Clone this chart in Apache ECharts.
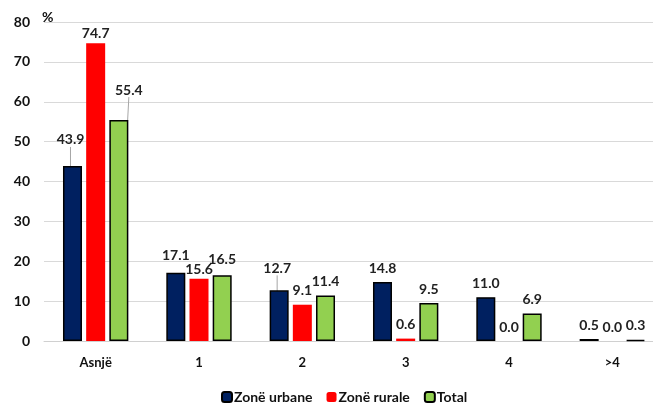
<!DOCTYPE html>
<html>
<head>
<meta charset="utf-8">
<script src="https://cdn.jsdelivr.net/npm/echarts@6/dist/echarts.min.js"></script>
<style>
  html, body { margin: 0; padding: 0; background: #fff; }
  #chart { width: 653px; height: 405px; }
</style>
</head>
<body>
<div id="chart"></div>
<script>
// data
var categories = ['Asnjë', '1', '2', '3', '4', '>4'];
var urbane = [43.9, 17.1, 12.7, 14.8, 11.0, 0.5];
var rurale = [74.7, 15.6, 9.1, 0.6, 0.0, 0.0];
var total = [55.4, 16.5, 11.4, 9.5, 6.9, 0.3];
var yTicks = [0, 10, 20, 30, 40, 50, 60, 70, 80];

var font = 'Lato, "Open Sans", sans-serif';

// labels that were dragged by hand in the original (seriesIndex-dataIndex -> shift)
var labelShift = {
    '0-0': [-2, -12],
    '0-1': [0, -3],
    '0-2': [-2, -8],
    '1-0': [0, 4],
    '1-1': [0, 5],
    '2-0': [10, -16],
    '2-1': [0, -2]
};
// labels that keep a leader line
var withLine = ['0-0', '0-2', '2-0'];

function labelCfg() {
    return {
        show: true,
        position: 'top',
        distance: 7,
        fontFamily: font,
        fontWeight: 'bold',
        fontSize: 14,
        color: '#222',
        formatter: function (p) { return p.value.toFixed(1); }
    };
}

function layout(p) {
    var s = labelShift[p.seriesIndex + '-' + p.dataIndex];
    return s ? { dx: s[0], dy: s[1] } : {};
}

function items(values, si) {
    return values.map(function (v, i) {
        var on = withLine.indexOf(si + '-' + i) >= 0;
        return { value: v, labelLine: { show: on, lineStyle: { color: '#a6a6a6', width: 1 } } };
    });
}

var chart = echarts.init(document.getElementById('chart'));
chart.setOption({
    animation: false,
    grid: { left: 44, right: -11, top: 22, bottom: 64, outerBoundsMode: 'none' },
    legend: {
        top: 385,
        left: 216,
        itemWidth: 10,
        itemHeight: 10,
        itemGap: 14,
        textStyle: { fontFamily: font, fontWeight: 'bold', fontSize: 14, color: '#111', padding: [0, 0, 0, -3] },
        data: ['Zonë urbane', 'Zonë rurale', 'Total']
    },
    xAxis: {
        type: 'category',
        data: categories,
        axisTick: { show: false },
        axisLine: { lineStyle: { color: '#d0d0d0', width: 1 } },
        axisLabel: { margin: 15, fontFamily: font, fontWeight: 'bold', fontSize: 13, color: '#111' }
    },
    yAxis: {
        type: 'value',
        min: yTicks[0],
        max: yTicks[yTicks.length - 1],
        interval: 10,
        name: '%',
        nameLocation: 'end',
        nameGap: -2,
        nameTextStyle: { fontFamily: font, fontWeight: 'bold', fontSize: 14, color: '#111', align: 'left', padding: [0, 0, 0, -2] },
        axisLine: { show: false },
        axisTick: { show: false },
        splitLine: { lineStyle: { color: '#d9d9d9', width: 1 } },
        axisLabel: { margin: 14, fontFamily: font, fontWeight: 'bold', fontSize: 14, color: '#111' }
    },
    series: [
        {
            name: 'Zonë urbane', type: 'bar', data: items(urbane, 0),
            barWidth: 19, barGap: '22%',
            itemStyle: { color: '#002060', borderColor: '#000', borderWidth: 1.5 },
            label: labelCfg(), labelLayout: layout
        },
        {
            name: 'Zonë rurale', type: 'bar', data: items(rurale, 1),
            barWidth: 19,
            itemStyle: { color: '#ff0000', borderColor: '#ff0000', borderWidth: 0 },
            label: labelCfg(), labelLayout: layout
        },
        {
            name: 'Total', type: 'bar', data: items(total, 2),
            barWidth: 19,
            itemStyle: { color: '#92d050', borderColor: '#000', borderWidth: 1.5 },
            label: labelCfg(), labelLayout: layout
        }
    ]
});
</script>
</body>
</html>
